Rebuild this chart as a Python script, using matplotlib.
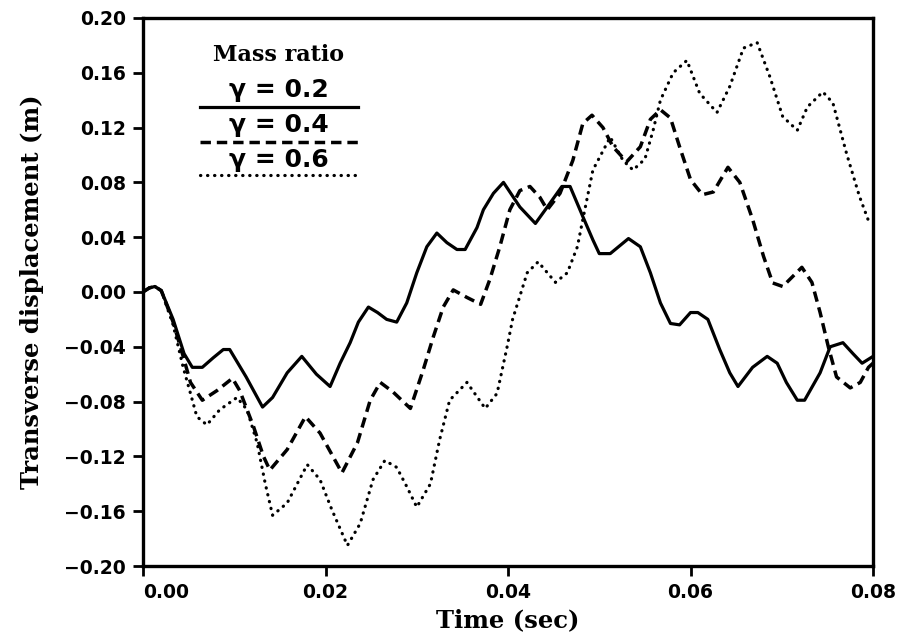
import matplotlib

matplotlib.use("Agg")
import matplotlib.pyplot as plt

# --------------------------------------------------------------------------- #
# Data
# --------------------------------------------------------------------------- #
t_02 = [0.0, 0.0007, 0.0013, 0.0020, 0.0033, 0.0045, 0.0054, 0.0065, 0.0077,
        0.0088, 0.0095, 0.0113, 0.0131, 0.0142, 0.0158, 0.0174, 0.0190, 0.0205,
        0.0216, 0.0227, 0.0236, 0.0247, 0.0257, 0.0267, 0.0278, 0.0289, 0.0300,
        0.0311, 0.0322, 0.0333, 0.0344, 0.0353, 0.0366, 0.0373, 0.0384, 0.0395,
        0.0413, 0.0430, 0.0443, 0.0459, 0.0468, 0.0482, 0.0493, 0.0500, 0.0512,
        0.0532, 0.0545, 0.0556, 0.0567, 0.0578, 0.0588, 0.0600, 0.0608, 0.0619,
        0.0632, 0.0643, 0.0652, 0.0668, 0.0684, 0.0695, 0.0705, 0.0717, 0.0725,
        0.0742, 0.0753, 0.0767, 0.0778, 0.0788, 0.0800]
y_02 = [0.0, 0.003, 0.004, 0.001, -0.020, -0.045, -0.055, -0.055, -0.048,
        -0.042, -0.042, -0.062, -0.084, -0.077, -0.059, -0.047, -0.060, -0.069,
        -0.052, -0.037, -0.022, -0.011, -0.015, -0.020, -0.022, -0.008, 0.014,
        0.033, 0.043, 0.036, 0.031, 0.031, 0.047, 0.060, 0.072, 0.080,
        0.062, 0.050, 0.062, 0.077, 0.077, 0.055, 0.038, 0.028, 0.028,
        0.039, 0.033, 0.014, -0.008, -0.023, -0.024, -0.015, -0.015, -0.020,
        -0.042, -0.059, -0.069, -0.055, -0.047, -0.052, -0.066, -0.079, -0.079,
        -0.059, -0.040, -0.037, -0.045, -0.052, -0.047]

t_04 = [0.0, 0.0007, 0.0013, 0.0020, 0.0033, 0.0044, 0.0052, 0.0065, 0.0081,
        0.0098, 0.0106, 0.0121, 0.0132, 0.0139, 0.0158, 0.0178, 0.0194, 0.0218,
        0.0235, 0.0249, 0.0260, 0.0274, 0.0293, 0.0307, 0.0318, 0.0329, 0.0340,
        0.0355, 0.0370, 0.0380, 0.0391, 0.0402, 0.0413, 0.0424, 0.0435, 0.0443,
        0.0457, 0.0471, 0.0482, 0.0492, 0.0504, 0.0515, 0.0530, 0.0545, 0.0556,
        0.0567, 0.0578, 0.0588, 0.0600, 0.0613, 0.0625, 0.0641, 0.0654, 0.0668,
        0.0680, 0.0690, 0.0701, 0.0722, 0.0733, 0.0742, 0.0751, 0.0760, 0.0775,
        0.0786, 0.0795, 0.0800]
y_04 = [0.0, 0.003, 0.004, 0.001, -0.022, -0.047, -0.066, -0.079, -0.072,
        -0.063, -0.072, -0.098, -0.120, -0.130, -0.115, -0.091, -0.103, -0.132,
        -0.110, -0.079, -0.066, -0.073, -0.085, -0.057, -0.033, -0.011, 0.0015,
        -0.004, -0.009, 0.009, 0.033, 0.060, 0.074, 0.077, 0.069, 0.060,
        0.072, 0.096, 0.123, 0.129, 0.120, 0.106, 0.095, 0.106, 0.126,
        0.133, 0.127, 0.106, 0.082, 0.071, 0.073, 0.091, 0.080, 0.053,
        0.026, 0.0066, 0.004, 0.018, 0.007, -0.015, -0.040, -0.062, -0.070,
        -0.066, -0.055, -0.052]

t_06 = [0.0, 0.0007, 0.0013, 0.0020, 0.0033, 0.0044, 0.0052, 0.0059, 0.0070,
        0.0084, 0.0103, 0.0114, 0.0125, 0.0134, 0.0142, 0.0158, 0.0169, 0.0180,
        0.0194, 0.0207, 0.0224, 0.0238, 0.0252, 0.0265, 0.0278, 0.0289, 0.0300,
        0.0315, 0.0325, 0.0336, 0.0355, 0.0375, 0.0388, 0.0399, 0.0405, 0.0421,
        0.0433, 0.0452, 0.0465, 0.0476, 0.0482, 0.0493, 0.0512, 0.0526, 0.0537,
        0.0550, 0.0559, 0.0567, 0.0581, 0.0596, 0.0610, 0.0629, 0.0643, 0.0658,
        0.0673, 0.0687, 0.0701, 0.0717, 0.0728, 0.0745, 0.0756, 0.0771, 0.0785,
        0.0795]
y_06 = [0.0, 0.003, 0.004, 0.001, -0.024, -0.055, -0.074, -0.091, -0.097,
        -0.086, -0.077, -0.086, -0.110, -0.140, -0.163, -0.154, -0.140, -0.126,
        -0.137, -0.159, -0.185, -0.169, -0.137, -0.123, -0.128, -0.142, -0.157,
        -0.140, -0.108, -0.079, -0.066, -0.085, -0.074, -0.040, -0.020, 0.014,
        0.022, 0.007, 0.014, 0.033, 0.053, 0.089, 0.113, 0.096, 0.089,
        0.097, 0.118, 0.140, 0.160, 0.169, 0.145, 0.131, 0.150, 0.178,
        0.182, 0.157, 0.128, 0.118, 0.135, 0.146, 0.138, 0.101, 0.070,
        0.052]

legend_labels = ["\u03b3 = 0.2", "\u03b3 = 0.4", "\u03b3 = 0.6"]
x_ticks = [0.00, 0.02, 0.04, 0.06, 0.08]
y_ticks = [-0.20, -0.16, -0.12, -0.08, -0.04, 0.00, 0.04, 0.08, 0.12, 0.16, 0.20]

# --------------------------------------------------------------------------- #
# Style
# --------------------------------------------------------------------------- #
SERIF = "DejaVu Serif"
SANS = "DejaVu Sans"
styles = [
    dict(linestyle="-", linewidth=2.3, dash_capstyle="butt"),
    dict(linestyle=(0, (3.0, 1.7)), linewidth=2.5, dash_capstyle="butt"),
    dict(linestyle=(0, (0.1, 2.1)), linewidth=2.3, dash_capstyle="round"),
]

fig = plt.figure(figsize=(9.08, 6.41), dpi=100)
ax = fig.add_axes([0.1575, 0.117, 0.804, 0.855])

series = [(t_02, y_02), (t_04, y_04), (t_06, y_06)]
for (t, y), st in zip(series, styles):
    ax.plot(t, y, color="black", solid_joinstyle="round", **st)

ax.set_xlim(0.0, 0.08)
ax.set_ylim(-0.20, 0.20)
ax.set_xticks(x_ticks, [f"{v:.2f}" for v in x_ticks])
ax.set_yticks(y_ticks, [f"{v:.2f}".replace("-", "\u2212") for v in y_ticks])
ax.tick_params(direction="out", length=7.5, width=2, pad=5)
for lab in ax.get_xticklabels() + ax.get_yticklabels():
    lab.set_fontfamily(SANS)
    lab.set_fontweight("bold")
    lab.set_fontsize(13.5)
ax.get_xticklabels()[0].set_horizontalalignment("left")
for sp in ax.spines.values():
    sp.set_linewidth(2.4)

ax.set_xlabel("Time (sec)", fontfamily=SERIF, fontweight="bold",
              fontsize=17.5, labelpad=4)
ax.set_ylabel("Transverse displacement (m)", fontfamily=SERIF,
              fontweight="bold", fontsize=17.5, labelpad=14)

# hand-drawn style legend: label sits above each line sample
tr = ax.transAxes
ax.text(0.186, 0.932, "Mass ratio", transform=tr, ha="center", va="center",
        fontfamily=SERIF, fontweight="bold", fontsize=16)
lab_y = [0.869, 0.805, 0.741]
line_y = [0.838, 0.774, 0.714]
for lab, ly, sy, st in zip(legend_labels, lab_y, line_y, styles):
    ax.text(0.186, ly, lab, transform=tr, ha="center", va="center",
            fontfamily=SANS, fontweight="bold", fontsize=18)
    ax.plot([0.078, 0.295], [sy, sy], transform=tr, color="black", **st)

fig.savefig("out.png", dpi=100)
